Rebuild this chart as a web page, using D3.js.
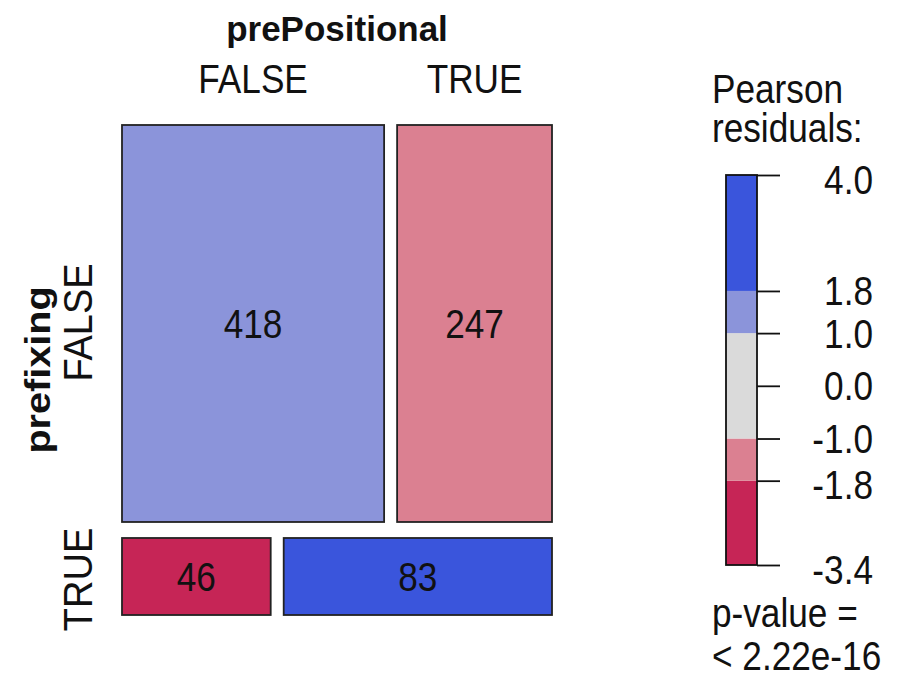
<!DOCTYPE html>
<html>
<head>
<meta charset="utf-8">
<script src="https://cdn.jsdelivr.net/npm/d3@7"></script>
<style>
  body { margin: 0; background: #fff; }
  text { font-family: "Liberation Sans", Arial, sans-serif; fill: #111; }
</style>
</head>
<body>
<svg id="chart" width="905" height="674"></svg>
<script>
// table: prefixing (rows) x prePositional (columns)
const rowLevels = ["FALSE", "TRUE"];
const colLevels = ["FALSE", "TRUE"];
const counts = [[418, 247], [46, 83]];
const residuals = [[1.49, -1.77], [-3.39, 4.02]];

// legend
const legendBreaks = [-3.4, -1.8, -1.0, 1.0, 1.8, 4.0];
const legendColors = ["#c62556", "#db8091", "#dadada", "#8b94da", "#3a55dc"];
const legendTicks = [4.0, 1.8, 1.0, 0.0, -1.0, -1.8, -3.4];

const svg = d3.select("#chart");
const sx = 0.88; // narrow text like the original

const plotLeft = 122, plotRight = 552, plotTop = 125, plotBottom = 615;
const colGap = 13, rowGap = 16;

const rowTotals = counts.map(r => d3.sum(r));
const total = d3.sum(rowTotals);

const yScale = d3.scaleLinear().domain([0, total]).range([0, plotBottom - plotTop - rowGap]);

const color = d3.scaleThreshold()
    .domain(legendBreaks.slice(1, -1))
    .range(legendColors);

// build the cells
const cells = [];
let y0 = plotTop;
counts.forEach((row, i) => {
    const h = yScale(rowTotals[i]);
    const xScale = d3.scaleLinear().domain([0, rowTotals[i]]).range([0, plotRight - plotLeft - colGap]);
    let x0 = plotLeft;
    row.forEach((n, j) => {
        const w = xScale(n);
        cells.push({ x: x0, y: y0, w: w, h: h, n: n, r: residuals[i][j], i: i, j: j });
        x0 += w + colGap;
    });
    y0 += h + rowGap;
});

const g = svg.append("g");

g.selectAll("rect.cell")
    .data(cells)
    .join("rect")
    .attr("class", "cell")
    .attr("x", d => d.x)
    .attr("y", d => d.y)
    .attr("width", d => d.w)
    .attr("height", d => d.h)
    .attr("fill", d => color(d.r))
    .attr("stroke", "#222")
    .attr("stroke-width", 1.8);

g.selectAll("text.count")
    .data(cells)
    .join("text")
    .attr("class", "count")
    .attr("text-anchor", "middle")
    .attr("transform", d => `translate(${d.x + d.w / 2},${d.y + d.h / 2 + 15}) scale(${sx},1)`)
    .style("font-size", "40px")
    .text(d => d.n);

// column labels (top row positions)
const topCells = cells.filter(d => d.i === 0);
svg.selectAll("text.collab")
    .data(topCells)
    .join("text")
    .attr("class", "collab")
    .attr("text-anchor", "middle")
    .attr("transform", d => `translate(${d.x + d.w / 2},93) scale(${sx},1)`)
    .style("font-size", "40px")
    .text(d => colLevels[d.j]);

svg.append("text")
    .attr("text-anchor", "middle")
    .attr("transform", `translate(${(plotLeft + plotRight) / 2},41)`)
    .style("font-size", "35px")
    .style("font-weight", "bold")
    .text("prePositional");

// row labels
const firstCol = cells.filter(d => d.j === 0);
svg.selectAll("text.rowlab")
    .data(firstCol)
    .join("text")
    .attr("class", "rowlab")
    .attr("text-anchor", "middle")
    .attr("transform", d => `translate(92,${d.y + d.h / 2 + (d.i ? 3 : -1)}) rotate(-90) scale(0.95,1)`)
    .style("font-size", "40px")
    .text(d => rowLevels[d.i]);

svg.append("text")
    .attr("text-anchor", "middle")
    .attr("transform", `translate(50,${(plotTop + plotBottom) / 2}) rotate(-90) scale(1.1,1)`)
    .style("font-size", "36px")
    .style("font-weight", "bold")
    .text("prefixing");

// legend
const lx = 726, lw = 31;
const ly = d3.scaleLinear().domain([-3.4, 4.0]).range([565, 175]);
const lg = svg.append("g");

lg.selectAll("rect")
    .data(legendColors)
    .join("rect")
    .attr("x", lx)
    .attr("width", lw)
    .attr("y", (d, k) => ly(legendBreaks[k + 1]))
    .attr("height", (d, k) => ly(legendBreaks[k]) - ly(legendBreaks[k + 1]))
    .attr("fill", d => d);

lg.append("rect")
    .attr("x", lx).attr("y", ly(4.0))
    .attr("width", lw).attr("height", ly(-3.4) - ly(4.0))
    .attr("fill", "none")
    .attr("stroke", "#111")
    .attr("stroke-width", 1.8);

const locale = d3.formatLocale({ decimal: ".", thousands: ",", grouping: [3], currency: ["", ""], minus: "-" });

const axis = d3.axisRight(ly)
    .tickValues(legendTicks)
    .tickFormat(locale.format(".1f"))
    .tickSize(23)
    .tickPadding(0);

const ag = lg.append("g")
    .attr("transform", `translate(${lx + lw},0)`)
    .call(axis);
ag.select(".domain").remove();
ag.selectAll(".tick line").attr("stroke", "#111").attr("stroke-width", 1.8);
ag.selectAll(".tick text")
    .attr("x", null).attr("dy", null)
    .attr("text-anchor", "end")
    .attr("transform", d => `translate(116,${d === 4 || d === -3.4 || d === -1.8 ? 18 : 14}) scale(${sx},1)`)
    .style("font-size", "40px")
    .style("font-family", "Liberation Sans, Arial, sans-serif")
    .attr("fill", "#111");

const legendTitle = ["Pearson", "residuals:"];
svg.selectAll("text.ltitle")
    .data(legendTitle)
    .join("text")
    .attr("class", "ltitle")
    .attr("transform", (d, k) => `translate(712,${103 + k * 39}) scale(${sx},1)`)
    .style("font-size", "40px")
    .text(d => d);

const pText = ["p-value =", "< 2.22e-16"];
svg.selectAll("text.pval")
    .data(pText)
    .join("text")
    .attr("class", "pval")
    .attr("transform", (d, k) => `translate(712,${627 + k * 43}) scale(${sx},1)`)
    .style("font-size", "40px")
    .text(d => d);
</script>
</body>
</html>
